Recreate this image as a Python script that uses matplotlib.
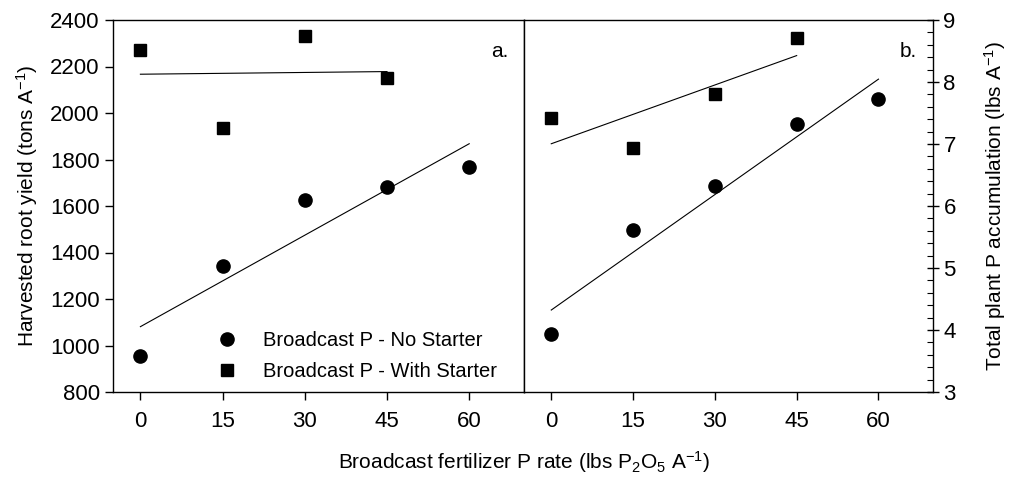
import numpy as np
import matplotlib
matplotlib.use("Agg")
import matplotlib.pyplot as plt
from matplotlib.ticker import MultipleLocator

plt.rcParams['font.family'] = ['Liberation Sans', 'DejaVu Sans']
plt.rcParams['mathtext.fontset'] = 'custom'
plt.rcParams['mathtext.rm'] = 'Liberation Sans'
plt.rcParams['mathtext.it'] = 'Liberation Sans'
plt.rcParams['mathtext.default'] = 'regular'

# data
rate = [0, 15, 30, 45, 60]
rate_ws = [0, 15, 30, 45]

yield_no = [955, 1341, 1627, 1680, 1769]
yield_ws = [2271, 1935, 2333, 2151]

ptot_no = [3.93, 5.61, 6.33, 7.32, 7.73]
ptot_ws = [7.42, 6.93, 7.80, 8.71]

labels = ['Broadcast P - No Starter', 'Broadcast P - With Starter']
fs = 15
fs_tick = 16
fs_leg = 14.5

fig = plt.figure(figsize=(10.09, 4.82), dpi=100)
W, H = 1009, 482
axa = fig.add_axes([113 / W, 1 - 392 / H, (524 - 113) / W, (392 - 20) / H])
axb = fig.add_axes([524 / W, 1 - 392 / H, (933 - 524) / W, (392 - 20) / H])


def fit(x, y):
    k, b = np.polyfit(x, y, 1)
    x = np.array(x, dtype=float)
    return x[[0, -1]], k * x[[0, -1]] + b


# panel a
axa.plot(rate, yield_no, 'o', color='black', ms=9.5, label=labels[0])
axa.plot(rate_ws, yield_ws, 's', color='black', ms=8.5, label=labels[1])
xx, yy = fit(rate, yield_no)
axa.plot(xx, yy, color='black', lw=0.8)
xx, yy = fit(rate_ws, yield_ws)
axa.plot(xx, yy, color='black', lw=0.8)
axa.set_xlim(-5, 70)
axa.set_ylim(800, 2400)
axa.set_xticks(rate)
axa.yaxis.set_major_locator(MultipleLocator(200))
axa.set_ylabel('Harvested root yield (tons A$^{-1}$)', fontsize=fs, labelpad=7)
axa.text(0.94, 0.9, 'a.', transform=axa.transAxes, fontsize=fs, ha='center')
axa.legend(loc='lower left', bbox_to_anchor=(0.205, 0.003), frameon=False,
           fontsize=fs_leg, handletextpad=0.75, labelspacing=0.58, borderpad=0)
axa.tick_params(direction='out', length=6, width=1, labelsize=fs_tick)

# panel b
axb.plot(rate, ptot_no, 'o', color='black', ms=9.5)
axb.plot(rate_ws, ptot_ws, 's', color='black', ms=8.5)
xx, yy = fit(rate, ptot_no)
axb.plot(xx, yy, color='black', lw=0.8)
xx, yy = fit(rate_ws, ptot_ws)
axb.plot(xx, yy, color='black', lw=0.8)
axb.set_xlim(-5, 70)
axb.set_ylim(3, 9)
axb.set_xticks(rate)
axb.yaxis.tick_right()
axb.yaxis.set_label_position('right')
axb.yaxis.set_major_locator(MultipleLocator(1))
axb.yaxis.set_minor_locator(MultipleLocator(0.2))
axb.set_ylabel('Total plant P accumulation (lbs A$^{-1}$)', fontsize=fs,
               labelpad=19)
axb.text(0.94, 0.9, 'b.', transform=axb.transAxes, fontsize=fs, ha='center')
axb.tick_params(axis='x', direction='out', length=6, width=1, labelsize=fs_tick)
axb.tick_params(axis='y', which='major', direction='inout', length=8, width=1,
                labelsize=fs_tick)
axb.tick_params(axis='y', which='minor', direction='in', length=4, width=0.8)

for ax in (axa, axb):
    for s in ax.spines.values():
        s.set_linewidth(1)
    ax.tick_params(axis='x', pad=8)

fig.text(524 / W, 1 - 462 / H, 'Broadcast fertilizer P rate (lbs P$_2$O$_5$ A$^{-1}$)',
         fontsize=fs, ha='center', va='center')

fig.savefig('out.png', dpi=100)
